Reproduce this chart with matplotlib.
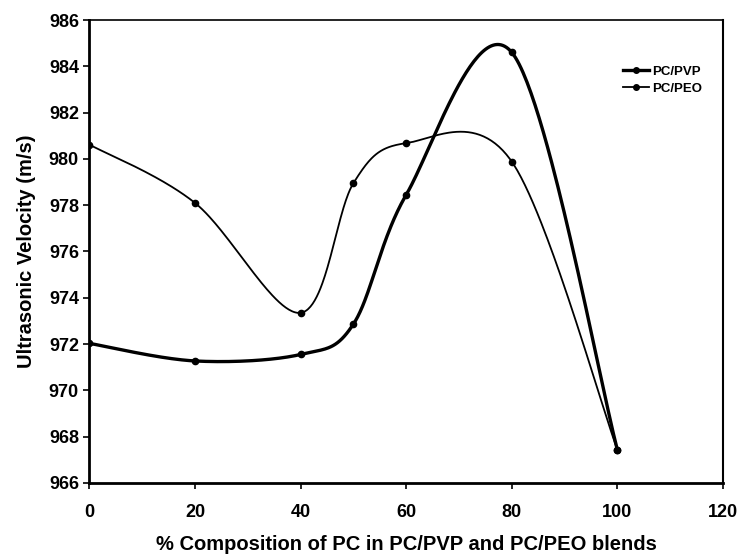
import numpy as np
import matplotlib
matplotlib.use("Agg")
import matplotlib.pyplot as plt

composition = [0, 20, 40, 50, 60, 80, 100]
pc_pvp = [972.03, 971.27, 971.55, 972.86, 978.45, 984.6, 967.42]
pc_peo = [980.62, 978.1, 973.35, 978.95, 980.68, 979.88, 967.42]
series_names = ["PC/PVP", "PC/PEO"]
x_ticks = [0, 20, 40, 60, 80, 100, 120]
y_ticks = [966, 968, 970, 972, 974, 976, 978, 980, 982, 984, 986]


def smooth(xs, ys, n=60):
    """Excel-like smoothed line: Catmull-Rom style cubic Bezier segments."""
    xs = np.asarray(xs, float)
    ys = np.asarray(ys, float)
    px, py = [], []
    m = len(xs)
    for i in range(m - 1):
        x0, y0 = xs[i], ys[i]
        x3, y3 = xs[i + 1], ys[i + 1]
        xa, ya = (xs[i - 1], ys[i - 1]) if i > 0 else (x0, y0)
        xb, yb = (xs[i + 2], ys[i + 2]) if i + 2 < m else (x3, y3)
        x1 = x0 + (x3 - xa) / 6.0
        y1 = y0 + (y3 - ya) / 6.0
        x2 = x3 - (xb - x0) / 6.0
        y2 = y3 - (yb - y0) / 6.0
        t = np.linspace(0, 1, n)
        bx = (1 - t) ** 3 * x0 + 3 * (1 - t) ** 2 * t * x1 + 3 * (1 - t) * t ** 2 * x2 + t ** 3 * x3
        by = (1 - t) ** 3 * y0 + 3 * (1 - t) ** 2 * t * y1 + 3 * (1 - t) * t ** 2 * y2 + t ** 3 * y3
        px.extend(bx)
        py.extend(by)
    return np.array(px), np.array(py)


plt.rcParams["font.family"] = ["Liberation Sans", "DejaVu Sans"]

fig = plt.figure(figsize=(7.43, 5.57), dpi=100)
ax = fig.add_axes([0.1202, 0.133, 0.853, 0.831])

widths = [2.4, 1.3]
for name, vals, lw in zip(series_names, [pc_pvp, pc_peo], widths):
    sx, sy = smooth(composition, vals)
    ax.plot(sx, sy, color="black", lw=lw, solid_capstyle="round")
    ax.plot(composition, vals, "o", color="black", ms=4.5)
    ax.plot([], [], color="black", lw=lw, marker="o", ms=4, label=name)

ax.set_xlim(0, 120)
ax.set_ylim(966, 986)
ax.set_xticks(x_ticks)
ax.set_yticks(y_ticks)
ax.tick_params(direction="out", length=4.5, width=1.2, labelsize=13)
ax.tick_params(axis="x", pad=11)
ax.tick_params(axis="y", pad=3)
for lab in ax.get_xticklabels() + ax.get_yticklabels():
    lab.set_fontweight("bold")

for side, lw in [("left", 2.0), ("bottom", 2.0), ("top", 1.2), ("right", 1.5)]:
    ax.spines[side].set_linewidth(lw)

ax.set_xlabel("% Composition of PC in PC/PVP and PC/PEO blends", fontsize=14.5,
              fontweight="bold", labelpad=10)
ax.set_ylabel("Ultrasonic Velocity (m/s)", fontsize=14.5, fontweight="bold", labelpad=9)

leg = ax.legend(loc="upper left", bbox_to_anchor=(0.823, 0.927), frameon=False,
                prop={"size": 9.5, "weight": "bold"}, handlelength=2.0,
                handletextpad=0.2, labelspacing=0.35)

fig.savefig("out.png", dpi=100)
